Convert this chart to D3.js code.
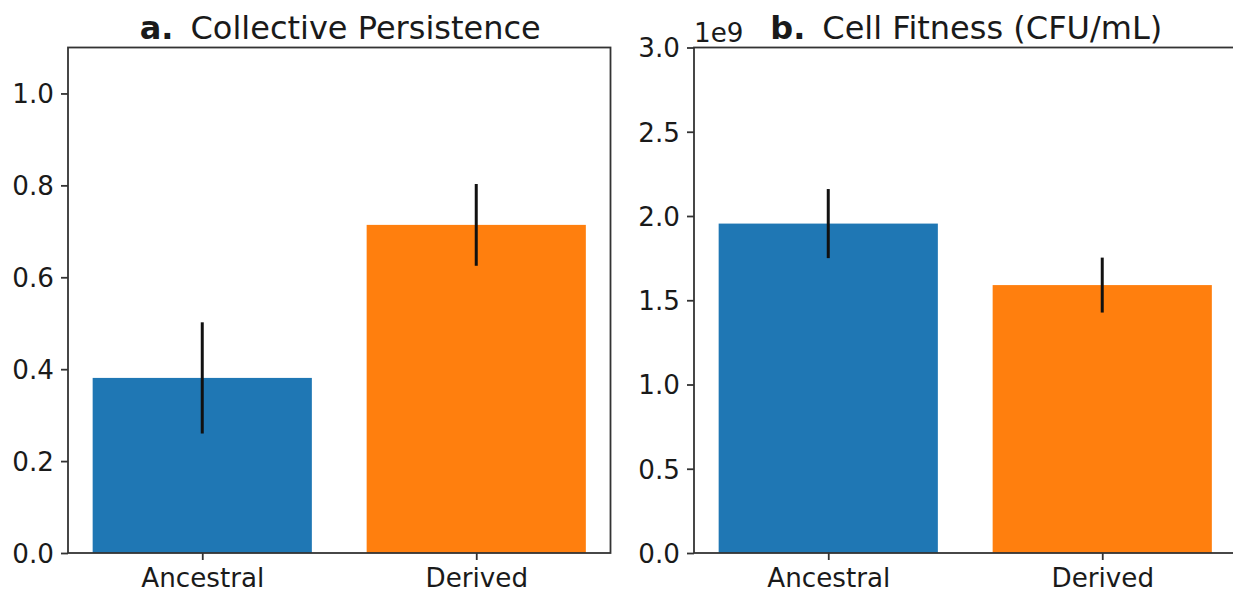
<!DOCTYPE html>
<html>
<head>
<meta charset="utf-8">
<script src="https://cdn.jsdelivr.net/npm/d3@7"></script>
<style>
  body { margin: 0; background: #fff; }
  text { font-family: 'DejaVu Sans', sans-serif; fill: #1a1a1a; }
</style>
</head>
<body>
<div class="render"></div>
<script>
'use strict';

var categories = ['Ancestral', 'Derived'];
var colors = ['#1f77b4', '#ff7f0e'];

var persistence = [0.381, 0.714];
var persistenceErr = [0.121, 0.089];
var persistenceTicks = [0, 0.2, 0.4, 0.6, 0.8, 1.0];

var fitness = [1.955e9, 1.59e9];
var fitnessErr = [0.205e9, 0.163e9];
var fitnessTicks = [0, 0.5e9, 1.0e9, 1.5e9, 2.0e9, 2.5e9, 3.0e9];

var w = 1233, h = 592;
var plotTop = 47.5, plotBottom = 553;
var tickFont = 26.2, titleFont = 32;

var svg = d3.select('.render').append('svg').attr('width', w).attr('height', h);

function panel(opts) {
   var g = svg.append('g');
   var xScale = d3.scaleLinear().domain([-0.49, 1.49]).range([opts.left, opts.right]);
   var yScale = d3.scaleLinear().domain(opts.ydomain).range([plotBottom, plotTop]);
   var half = 0.4;

   g.selectAll('rect.bar').data(opts.values).enter().append('rect')
      .attr('class', 'bar')
      .attr('x', function (d, i) { return xScale(i - half); })
      .attr('width', function (d, i) { return xScale(i + half) - xScale(i - half); })
      .attr('y', function (d) { return yScale(d); })
      .attr('height', function (d) { return yScale(0) - yScale(d); })
      .attr('fill', function (d, i) { return colors[i]; });

   g.selectAll('line.err').data(opts.values).enter().append('line')
      .attr('class', 'err')
      .attr('x1', function (d, i) { return xScale(i); })
      .attr('x2', function (d, i) { return xScale(i); })
      .attr('y1', function (d, i) { return yScale(d - opts.errors[i]); })
      .attr('y2', function (d, i) { return yScale(d + opts.errors[i]); })
      .attr('stroke', '#111').attr('stroke-width', 3);

   var yAxis = d3.axisLeft(yScale).tickValues(opts.ticks).tickFormat(opts.fmt).tickSize(7).tickPadding(7);
   var ya = g.append('g').attr('transform', 'translate(' + opts.left + ',0)').call(yAxis);
   var xAxis = d3.axisBottom(xScale).tickValues([0, 1]).tickFormat(function (d) { return categories[d]; }).tickSize(7).tickPadding(7);
   var xa = g.append('g').attr('transform', 'translate(0,' + plotBottom + ')').call(xAxis);

   [ya, xa].forEach(function (a) {
      a.select('.domain').remove();
      a.selectAll('line').attr('stroke', '#333').attr('stroke-width', 1.8);
      a.selectAll('text').style('font-size', tickFont + 'px').attr('fill', '#1a1a1a');
   });
   ya.selectAll('text').attr('dy', '0.36em');
   xa.selectAll('text').attr('dy', '0.76em');

   g.append('rect').attr('x', opts.left).attr('y', plotTop)
      .attr('width', opts.right - opts.left).attr('height', plotBottom - plotTop)
      .attr('fill', 'none').attr('stroke', '#333').attr('stroke-width', 1.8);

   var t = g.append('text').attr('x', (opts.left + opts.right) / 2 + 1).attr('y', 39)
      .attr('text-anchor', 'middle').style('font-size', titleFont + 'px');
   t.append('tspan').text(opts.letter).style('font-weight', 'bold');
   t.append('tspan').attr('dx', 17).text(opts.title);

   if (opts.offset) {
      g.append('text').attr('x', opts.left).attr('y', 42).text(opts.offset).style('font-size', tickFont + 'px');
   }
}

panel({
   left: 68, right: 610.5, ydomain: [0, 1.1],
   values: persistence, errors: persistenceErr, ticks: persistenceTicks,
   fmt: d3.format('.1f'), letter: 'a.', title: 'Collective Persistence'
});

panel({
   left: 694, right: 1236.5, ydomain: [0, 3e9],
   values: fitness, errors: fitnessErr, ticks: fitnessTicks,
   fmt: function (d) { return (d / 1e9).toFixed(1); }, letter: 'b.', title: 'Cell Fitness (CFU/mL)',
   offset: '1e9'
});
</script>
</body>
</html>
